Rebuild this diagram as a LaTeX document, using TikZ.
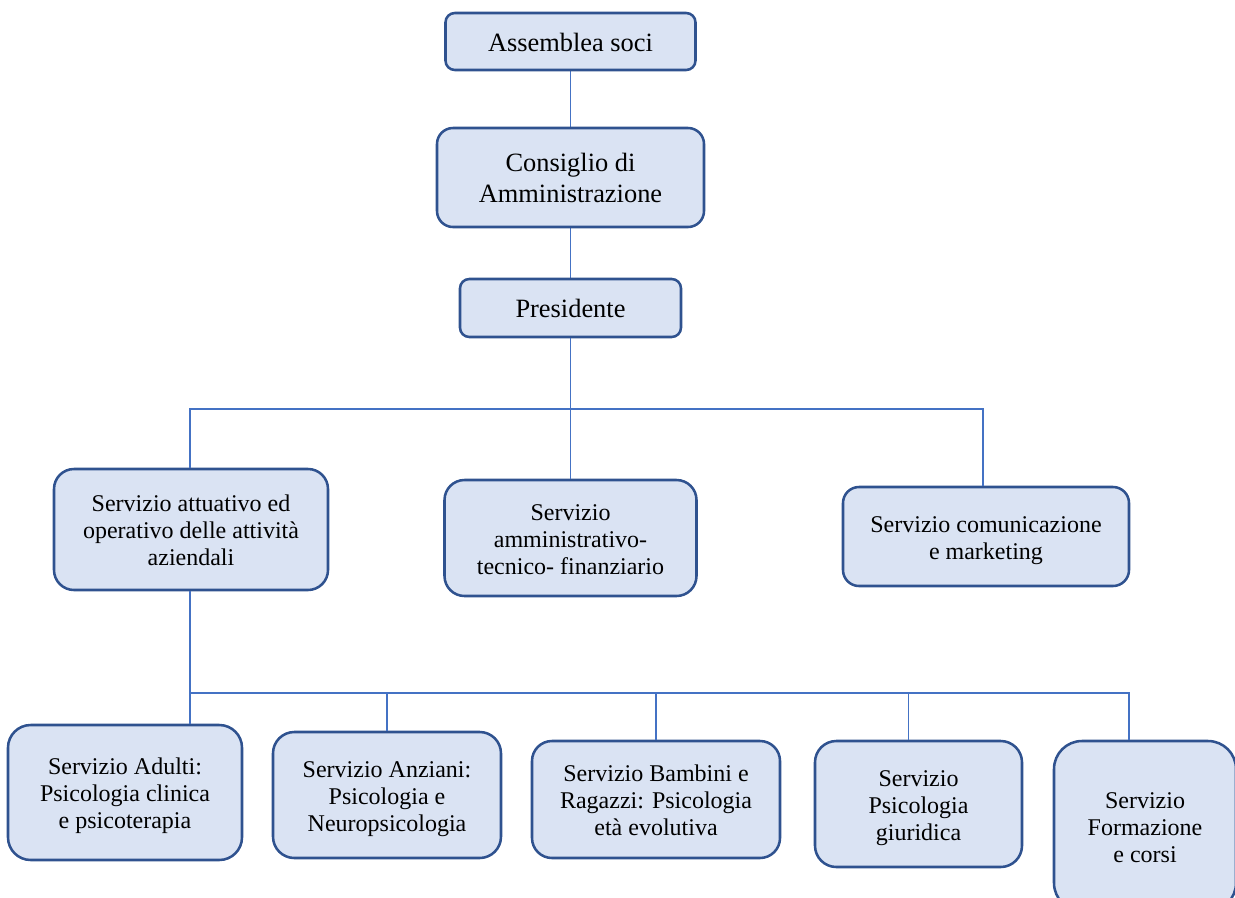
\documentclass[tikz,border=0pt]{standalone}
\usepackage{fontspec}
\setmainfont{Liberation Serif}
\definecolor{boxfill}{HTML}{DAE3F3}
\definecolor{boxline}{HTML}{2F528F}
\definecolor{linkline}{HTML}{4472C4}
\newcommand{\boxtext}[1]{\rule{0pt}{0.97em}#1\rule[-0.22em]{0pt}{0pt}}
\begin{document}
\begin{tikzpicture}[x=0.75pt, y=-0.75pt,
unitbox/.style={draw=boxline, fill=boxfill, line width=1.9pt, align=center, inner sep=0pt,
  rounded corners=15pt, font=\fontsize{18}{20.25}\selectfont},
headbox/.style={unitbox, font=\fontsize{19.8}{23.25}\selectfont},
link/.style={draw=linkline, line width=0.8pt}]
\useasboundingbox (0,0) rectangle (1235,897);
\coordinate (bus1) at (570.5,409);
\coordinate (bus2) at (190,693);
\draw[link] (570.5,41.5) -- (570.5,308);
\node[headbox, minimum width=187.5pt, minimum height=42.75pt, rounded corners=7pt] (assemblea) at (570.5,41.5) {\boxtext{Assemblea soci}};
\node[headbox, minimum width=200.25pt, minimum height=74.25pt, rounded corners=12pt] (consiglio) at (570.5,177.5) {\boxtext{Consiglio di\\Amministrazione}};
\node[headbox, minimum width=165.75pt, minimum height=43.5pt, rounded corners=7pt] (presidente) at (570.5,308) {\boxtext{Presidente}};
\node[unitbox, minimum width=205.5pt, minimum height=90.75pt] (attuativo) at (191,529.5) {\boxtext{Servizio attuativo ed\\operativo delle attività\\aziendali}};
\node[unitbox, minimum width=189pt, minimum height=87pt] (amministrativo) at (570.5,538) {\boxtext{Servizio\\amministrativo-\\tecnico- finanziario}};
\node[unitbox, minimum width=214.5pt, minimum height=74.25pt, rounded corners=12pt] (comunicazione) at (986,536.5) {\boxtext{Servizio comunicazione\\e marketing}};
\node[unitbox, minimum width=175.5pt, minimum height=101.25pt, rounded corners=17pt] (adulti) at (125,792.5) {\boxtext{Servizio Adulti:\\Psicologia clinica\\e psicoterapia}};
\node[unitbox, minimum width=171pt, minimum height=94.5pt, rounded corners=16pt] (anziani) at (387,795) {\boxtext{Servizio Anziani:\\Psicologia e\\Neuropsicologia}};
\node[unitbox, minimum width=186pt, minimum height=87.75pt] (bambini) at (656,799.5) {\boxtext{Servizio Bambini e\\Ragazzi: Psicologia\\età evolutiva}};
\node[unitbox, minimum width=155.25pt, minimum height=94.5pt, rounded corners=16pt] (giuridica) at (918.5,804) {\boxtext{Servizio\\Psicologia\\giuridica}};
\node[unitbox, minimum width=136.5pt, minimum height=127.5pt, rounded corners=21pt] (formazione) at (1145,826) {\boxtext{Servizio\\Formazione\\e corsi}};
\draw[link] (presidente.south) -- (amministrativo.north);
\draw[link] ([xshift=-0.75pt]attuativo.north) |- (bus1) -| ([xshift=-2.25pt]comunicazione.north);
\draw[link] ([xshift=-0.75pt]attuativo.south) -- (bus2) -| ([xshift=-12pt]formazione.north);
\draw[link] (bus2) -- (bus2 |- adulti.north);
\foreach \n in {anziani, bambini}
  \draw[link] (\n.north) -- (\n.north |- bus2);
\draw[link] ([xshift=-7.5pt]giuridica.north) -- ([xshift=-7.5pt]giuridica.north |- bus2);
\end{tikzpicture}
\end{document}
